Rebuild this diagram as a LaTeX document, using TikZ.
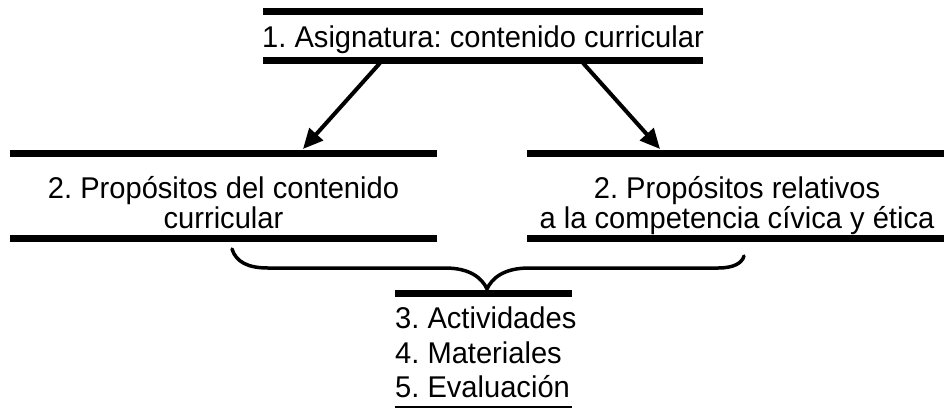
\documentclass[tikz,border=0pt]{standalone}
\usepackage{fontspec}
\setmainfont{Liberation Sans}[FakeStretch=0.97]
\usetikzlibrary{arrows.meta}
\begin{document}
\frenchspacing
\begin{tikzpicture}[x=1pt,y=-1pt,
  bar/.style={fill=black,inner sep=0pt,outer sep=0pt,minimum height=7pt,draw=none},
  thinbar/.style={fill=black,inner sep=0pt,outer sep=0pt,minimum height=2pt,draw=none},
  lbl/.style={anchor=base,inner sep=0pt,font=\fontsize{30}{34}\selectfont\frenchspacing},
  lbll/.style={anchor=base west,inner sep=0pt,font=\fontsize{30}{34}\selectfont\frenchspacing},
  arr/.style={line width=4pt,-{Triangle[length=20pt,width=18pt]}},
  bracepath/.style={line width=3.5pt,line cap=round}]
\useasboundingbox (0,0) rectangle (944,410);
% top box
\node[bar,minimum width=440pt] (t1) at (483,11.5) {};
\node[lbl] (t) at (483,47) {1. Asignatura: contenido curricular};
\node[bar,minimum width=440pt] (t2) at (483,60) {};
% left box
\node[bar,minimum width=427pt] (l1) at (223.5,153) {};
\node[lbl] (la) at (223.5,198) {2. Propósitos del contenido};
\node[lbl] (lb) at (223.5,228) {curricular};
\node[bar,minimum width=427pt] (l2) at (223.5,238) {};
% right box
\node[bar,minimum width=417pt] (r1) at (735.5,153) {};
\node[lbl] (ra) at (737,198) {2. Propósitos relativos};
\node[lbl] (rb) at (737,228) {a la competencia cívica y ética};
\node[bar,minimum width=417pt] (r2) at (735.5,238) {};
% bottom box
\node[bar,minimum width=177pt] (b1) at (483.5,293) {};
\node[lbll] (b3) at (395,328) {3. Actividades};
\node[lbll] (b4) at (395,363) {4. Materiales};
\node[lbll] (b5) at (395,397) {5. Evaluación};
\node[thinbar,minimum width=177pt] (b2) at (483.5,407) {};
% arrows
\coordinate (a1s) at (380,63);
\coordinate (a1e) at (303,149);
\coordinate (a2s) at (583,63);
\coordinate (a2e) at (660,149);
\draw[arr] (a1s) -- (a1e);
\draw[arr] (a2s) -- (a2e);
% brace
\coordinate (bl) at (232,249);
\coordinate (bt) at (487,289);
\coordinate (br) at (744,256);
\draw[bracepath] (bl) .. controls (236,262) and (248,268) .. (268,268)
  -- (445,268) .. controls (470,268) and (482,278) .. (bt)
  .. controls (492,278) and (504,268) .. (529,268)
  -- (718,268) .. controls (734,268) and (742,263) .. (br);
\end{tikzpicture}
\end{document}
